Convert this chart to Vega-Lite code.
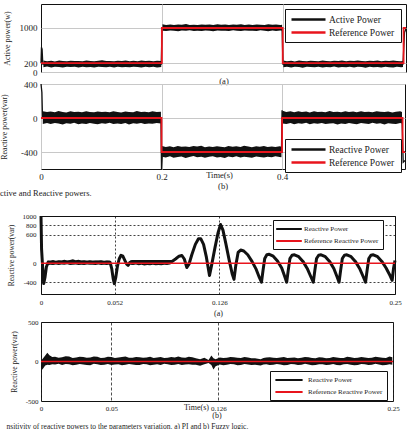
{
  "$schema": "https://vega.github.io/schema/vega-lite/v6.json",
  "padding": {"left": 0, "top": 3, "right": 0, "bottom": 0},
  "config": {
    "font": "Liberation Serif",
    "view": {"stroke": "#111", "strokeWidth": 1},
    "axis": {
      "labelFont": "Liberation Serif", "titleFont": "Liberation Serif", "titleFontWeight": "normal",
      "labelColor": "#222", "titleColor": "#222", "domain": false, "ticks": false,
      "labelOverlap": false, "labelFlush": false, "labelBound": false
    },
    "title": {"font": "Liberation Serif", "fontWeight": "normal", "color": "#222"},
    "legend": {"labelFont": "Liberation Serif", "labelColor": "#222"}
  },
  "datasets": {
    "p1_band": [
      {"seg":"a","t":0.004,"v":110,"v2":260},{"seg":"a","t":0.010,"v":125,"v2":245},{"seg":"a","t":0.017,"v":105,"v2":255},{"seg":"a","t":0.023,"v":120,"v2":240},
      {"seg":"a","t":0.030,"v":115,"v2":262},{"seg":"a","t":0.036,"v":100,"v2":250},{"seg":"a","t":0.043,"v":122,"v2":245},{"seg":"a","t":0.049,"v":112,"v2":258},
      {"seg":"a","t":0.056,"v":118,"v2":248},{"seg":"a","t":0.062,"v":104,"v2":252},{"seg":"a","t":0.069,"v":120,"v2":244},{"seg":"a","t":0.075,"v":110,"v2":260},
      {"seg":"a","t":0.082,"v":115,"v2":250},{"seg":"a","t":0.088,"v":102,"v2":246},{"seg":"a","t":0.095,"v":120,"v2":255},{"seg":"a","t":0.101,"v":112,"v2":265},
      {"seg":"a","t":0.108,"v":108,"v2":248},{"seg":"a","t":0.114,"v":122,"v2":252},{"seg":"a","t":0.121,"v":100,"v2":245},{"seg":"a","t":0.127,"v":118,"v2":258},
      {"seg":"a","t":0.134,"v":110,"v2":250},{"seg":"a","t":0.140,"v":115,"v2":262},{"seg":"a","t":0.147,"v":106,"v2":247},{"seg":"a","t":0.153,"v":120,"v2":253},
      {"seg":"a","t":0.160,"v":112,"v2":245},{"seg":"a","t":0.166,"v":104,"v2":260},{"seg":"a","t":0.173,"v":118,"v2":250},{"seg":"a","t":0.179,"v":110,"v2":255},
      {"seg":"a","t":0.186,"v":122,"v2":245},{"seg":"a","t":0.192,"v":105,"v2":258},{"seg":"a","t":0.199,"v":115,"v2":250},
      {"seg":"b","t":0.201,"v":940,"v2":1085},{"seg":"b","t":0.207,"v":930,"v2":1070},{"seg":"b","t":0.214,"v":945,"v2":1078},{"seg":"b","t":0.220,"v":935,"v2":1066},
      {"seg":"b","t":0.227,"v":928,"v2":1080},{"seg":"b","t":0.233,"v":942,"v2":1072},{"seg":"b","t":0.240,"v":936,"v2":1088},{"seg":"b","t":0.246,"v":948,"v2":1070},
      {"seg":"b","t":0.253,"v":930,"v2":1076},{"seg":"b","t":0.259,"v":940,"v2":1068},{"seg":"b","t":0.266,"v":933,"v2":1082},{"seg":"b","t":0.272,"v":945,"v2":1074},
      {"seg":"b","t":0.279,"v":938,"v2":1079},{"seg":"b","t":0.285,"v":926,"v2":1068},{"seg":"b","t":0.292,"v":944,"v2":1084},{"seg":"b","t":0.298,"v":935,"v2":1072},
      {"seg":"b","t":0.305,"v":940,"v2":1077},{"seg":"b","t":0.311,"v":930,"v2":1069},{"seg":"b","t":0.318,"v":946,"v2":1081},{"seg":"b","t":0.324,"v":937,"v2":1073},
      {"seg":"b","t":0.331,"v":929,"v2":1086},{"seg":"b","t":0.337,"v":943,"v2":1070},{"seg":"b","t":0.344,"v":935,"v2":1078},{"seg":"b","t":0.350,"v":940,"v2":1066},
      {"seg":"b","t":0.357,"v":931,"v2":1080},{"seg":"b","t":0.363,"v":947,"v2":1075},{"seg":"b","t":0.370,"v":936,"v2":1070},{"seg":"b","t":0.376,"v":928,"v2":1083},
      {"seg":"b","t":0.383,"v":942,"v2":1072},{"seg":"b","t":0.389,"v":934,"v2":1079},{"seg":"b","t":0.396,"v":945,"v2":1068},{"seg":"b","t":0.399,"v":938,"v2":1076},
      {"seg":"c","t":0.401,"v":108,"v2":262},{"seg":"c","t":0.407,"v":120,"v2":246},{"seg":"c","t":0.414,"v":104,"v2":255},{"seg":"c","t":0.420,"v":117,"v2":241},
      {"seg":"c","t":0.427,"v":111,"v2":259},{"seg":"c","t":0.433,"v":99,"v2":249},{"seg":"c","t":0.440,"v":121,"v2":244},{"seg":"c","t":0.446,"v":113,"v2":257},
      {"seg":"c","t":0.453,"v":106,"v2":250},{"seg":"c","t":0.459,"v":119,"v2":247},{"seg":"c","t":0.466,"v":102,"v2":261},{"seg":"c","t":0.472,"v":116,"v2":252},
      {"seg":"c","t":0.479,"v":109,"v2":246},{"seg":"c","t":0.485,"v":123,"v2":256},{"seg":"c","t":0.492,"v":101,"v2":249},{"seg":"c","t":0.498,"v":114,"v2":263},
      {"seg":"c","t":0.505,"v":108,"v2":244},{"seg":"c","t":0.511,"v":120,"v2":254},{"seg":"c","t":0.518,"v":103,"v2":248},{"seg":"c","t":0.524,"v":117,"v2":259},
      {"seg":"c","t":0.531,"v":111,"v2":251},{"seg":"c","t":0.537,"v":99,"v2":245},{"seg":"c","t":0.544,"v":122,"v2":257},{"seg":"c","t":0.550,"v":107,"v2":249},
      {"seg":"c","t":0.557,"v":115,"v2":262},{"seg":"c","t":0.563,"v":104,"v2":246},{"seg":"c","t":0.570,"v":119,"v2":255},{"seg":"c","t":0.576,"v":110,"v2":248},
      {"seg":"c","t":0.583,"v":101,"v2":260},{"seg":"c","t":0.589,"v":118,"v2":251},{"seg":"c","t":0.596,"v":109,"v2":246},{"seg":"c","t":0.599,"v":114,"v2":256}
    ],
    "p1_line": [
      {"s":"Active Power","t":0,"v":200},{"s":"Active Power","t":0.0008,"v":560},{"s":"Active Power","t":0.0018,"v":520},{"s":"Active Power","t":0.003,"v":180},
      {"s":"Active Power","t":0.199,"v":180},{"s":"Active Power","t":0.2003,"v":1000},{"s":"Active Power","t":0.399,"v":1000},{"s":"Active Power","t":0.4003,"v":180},
      {"s":"Active Power","t":0.599,"v":180},{"s":"Active Power","t":0.6015,"v":900},{"s":"Active Power","t":0.604,"v":980}
    ],
    "p1_ref": [
      {"s":"Reference  Power","t":0,"v":200},{"s":"Reference  Power","t":0.2,"v":1000},{"s":"Reference  Power","t":0.4,"v":200},
      {"s":"Reference  Power","t":0.6,"v":1000},{"s":"Reference  Power","t":0.604,"v":1000}
    ],
    "p2_band": [
      {"seg":"a","t":0.003,"v":-70,"v2":80},{"seg":"a","t":0.010,"v":-60,"v2":70},{"seg":"a","t":0.016,"v":-72,"v2":76},{"seg":"a","t":0.023,"v":-58,"v2":68},
      {"seg":"a","t":0.029,"v":-66,"v2":82},{"seg":"a","t":0.036,"v":-75,"v2":72},{"seg":"a","t":0.042,"v":-62,"v2":66},{"seg":"a","t":0.049,"v":-68,"v2":78},
      {"seg":"a","t":0.055,"v":-57,"v2":71},{"seg":"a","t":0.062,"v":-73,"v2":74},{"seg":"a","t":0.068,"v":-64,"v2":69},{"seg":"a","t":0.075,"v":-70,"v2":80},
      {"seg":"a","t":0.081,"v":-59,"v2":72},{"seg":"a","t":0.088,"v":-67,"v2":67},{"seg":"a","t":0.094,"v":-74,"v2":77},{"seg":"a","t":0.101,"v":-61,"v2":70},
      {"seg":"a","t":0.107,"v":-69,"v2":75},{"seg":"a","t":0.114,"v":-56,"v2":68},{"seg":"a","t":0.120,"v":-72,"v2":79},{"seg":"a","t":0.127,"v":-65,"v2":71},
      {"seg":"a","t":0.133,"v":-70,"v2":66},{"seg":"a","t":0.140,"v":-60,"v2":76},{"seg":"a","t":0.146,"v":-76,"v2":72},{"seg":"a","t":0.153,"v":-63,"v2":69},
      {"seg":"a","t":0.159,"v":-68,"v2":81},{"seg":"a","t":0.166,"v":-58,"v2":70},{"seg":"a","t":0.172,"v":-71,"v2":74},{"seg":"a","t":0.179,"v":-64,"v2":67},
      {"seg":"a","t":0.185,"v":-69,"v2":78},{"seg":"a","t":0.192,"v":-60,"v2":71},{"seg":"a","t":0.199,"v":-66,"v2":73},
      {"seg":"b","t":0.201,"v":-455,"v2":-330},{"seg":"b","t":0.207,"v":-465,"v2":-340},{"seg":"b","t":0.214,"v":-450,"v2":-332},{"seg":"b","t":0.220,"v":-468,"v2":-345},
      {"seg":"b","t":0.227,"v":-458,"v2":-328},{"seg":"b","t":0.233,"v":-452,"v2":-338},{"seg":"b","t":0.240,"v":-470,"v2":-335},{"seg":"b","t":0.246,"v":-460,"v2":-342},
      {"seg":"b","t":0.253,"v":-448,"v2":-330},{"seg":"b","t":0.259,"v":-463,"v2":-336},{"seg":"b","t":0.266,"v":-455,"v2":-326},{"seg":"b","t":0.272,"v":-467,"v2":-344},
      {"seg":"b","t":0.279,"v":-457,"v2":-334},{"seg":"b","t":0.285,"v":-450,"v2":-340},{"seg":"b","t":0.292,"v":-466,"v2":-331},{"seg":"b","t":0.298,"v":-459,"v2":-337},
      {"seg":"b","t":0.305,"v":-471,"v2":-343},{"seg":"b","t":0.311,"v":-454,"v2":-329},{"seg":"b","t":0.318,"v":-462,"v2":-339},{"seg":"b","t":0.324,"v":-449,"v2":-333},
      {"seg":"b","t":0.331,"v":-465,"v2":-341},{"seg":"b","t":0.337,"v":-456,"v2":-327},{"seg":"b","t":0.344,"v":-461,"v2":-336},{"seg":"b","t":0.350,"v":-468,"v2":-344},
      {"seg":"b","t":0.357,"v":-452,"v2":-332},{"seg":"b","t":0.363,"v":-460,"v2":-338},{"seg":"b","t":0.370,"v":-466,"v2":-330},{"seg":"b","t":0.376,"v":-455,"v2":-342},
      {"seg":"b","t":0.383,"v":-463,"v2":-335},{"seg":"b","t":0.389,"v":-450,"v2":-340},{"seg":"b","t":0.396,"v":-458,"v2":-333},{"seg":"b","t":0.399,"v":-462,"v2":-338},
      {"seg":"c","t":0.401,"v":-64,"v2":85},{"seg":"c","t":0.407,"v":-70,"v2":72},{"seg":"c","t":0.414,"v":-58,"v2":78},{"seg":"c","t":0.420,"v":-73,"v2":69},
      {"seg":"c","t":0.427,"v":-62,"v2":80},{"seg":"c","t":0.433,"v":-67,"v2":71},{"seg":"c","t":0.440,"v":-57,"v2":76},{"seg":"c","t":0.446,"v":-74,"v2":66},
      {"seg":"c","t":0.453,"v":-63,"v2":79},{"seg":"c","t":0.459,"v":-69,"v2":72},{"seg":"c","t":0.466,"v":-59,"v2":75},{"seg":"c","t":0.472,"v":-72,"v2":68},
      {"seg":"c","t":0.479,"v":-65,"v2":81},{"seg":"c","t":0.485,"v":-61,"v2":70},{"seg":"c","t":0.492,"v":-76,"v2":74},{"seg":"c","t":0.498,"v":-64,"v2":67},
      {"seg":"c","t":0.505,"v":-70,"v2":78},{"seg":"c","t":0.511,"v":-58,"v2":72},{"seg":"c","t":0.518,"v":-68,"v2":76},{"seg":"c","t":0.524,"v":-73,"v2":69},
      {"seg":"c","t":0.531,"v":-60,"v2":80},{"seg":"c","t":0.537,"v":-66,"v2":71},{"seg":"c","t":0.544,"v":-71,"v2":75},{"seg":"c","t":0.550,"v":-57,"v2":68},
      {"seg":"c","t":0.557,"v":-69,"v2":79},{"seg":"c","t":0.563,"v":-63,"v2":73},{"seg":"c","t":0.570,"v":-75,"v2":70},{"seg":"c","t":0.576,"v":-61,"v2":77},
      {"seg":"c","t":0.583,"v":-67,"v2":66},{"seg":"c","t":0.589,"v":-72,"v2":74},{"seg":"c","t":0.596,"v":-59,"v2":79},{"seg":"c","t":0.599,"v":-66,"v2":71}
    ],
    "p2_line": [
      {"s":"Reactive Power","t":0,"v":400},{"s":"Reactive Power","t":0.0015,"v":300},{"s":"Reactive Power","t":0.0025,"v":0},{"s":"Reactive Power","t":0.199,"v":0},
      {"s":"Reactive Power","t":0.2,"v":-600},{"s":"Reactive Power","t":0.2015,"v":-400},{"s":"Reactive Power","t":0.399,"v":-400},{"s":"Reactive Power","t":0.4,"v":90},
      {"s":"Reactive Power","t":0.4015,"v":0},{"s":"Reactive Power","t":0.599,"v":0},{"s":"Reactive Power","t":0.601,"v":-520},{"s":"Reactive Power","t":0.604,"v":-500}
    ],
    "p2_ref": [
      {"s":"Reference  Power","t":0,"v":0},{"s":"Reference  Power","t":0.2,"v":-400},{"s":"Reference  Power","t":0.4,"v":0},
      {"s":"Reference  Power","t":0.6,"v":-400},{"s":"Reference  Power","t":0.604,"v":-400}
    ],
    "p3_band": [
      {"seg":"a","t":0.0045,"v":-40,"v2":60},{"seg":"a","t":0.0065,"v":-30,"v2":55},{"seg":"a","t":0.0085,"v":-35,"v2":70},{"seg":"a","t":0.0105,"v":-25,"v2":50},
      {"seg":"a","t":0.0125,"v":-38,"v2":62},{"seg":"a","t":0.0145,"v":-28,"v2":58},{"seg":"a","t":0.0165,"v":-33,"v2":75},{"seg":"a","t":0.0185,"v":-22,"v2":60},
      {"seg":"a","t":0.0205,"v":-36,"v2":68},{"seg":"a","t":0.0225,"v":-30,"v2":85},{"seg":"a","t":0.0245,"v":-26,"v2":62},{"seg":"a","t":0.0265,"v":-35,"v2":72},
      {"seg":"a","t":0.0285,"v":-30,"v2":58},{"seg":"a","t":0.0305,"v":-38,"v2":66},{"seg":"a","t":0.0325,"v":-24,"v2":55},{"seg":"a","t":0.0345,"v":-32,"v2":64},
      {"seg":"a","t":0.0365,"v":-29,"v2":52},{"seg":"a","t":0.0385,"v":-36,"v2":60},{"seg":"a","t":0.0405,"v":-27,"v2":57},{"seg":"a","t":0.0425,"v":-34,"v2":63},
      {"seg":"a","t":0.0445,"v":-30,"v2":50},{"seg":"a","t":0.0465,"v":-38,"v2":58},{"seg":"a","t":0.0488,"v":-28,"v2":52},
      {"seg":"b","t":0.063,"v":-30,"v2":60},{"seg":"b","t":0.065,"v":-36,"v2":55},{"seg":"b","t":0.067,"v":-28,"v2":62},{"seg":"b","t":0.069,"v":-40,"v2":50},
      {"seg":"b","t":0.071,"v":-33,"v2":58},{"seg":"b","t":0.073,"v":-45,"v2":48},{"seg":"b","t":0.075,"v":-35,"v2":55},{"seg":"b","t":0.077,"v":-42,"v2":46},
      {"seg":"b","t":0.079,"v":-30,"v2":52},{"seg":"b","t":0.081,"v":-44,"v2":45},{"seg":"b","t":0.083,"v":-36,"v2":50},{"seg":"b","t":0.085,"v":-40,"v2":48},
      {"seg":"b","t":0.087,"v":-32,"v2":52},{"seg":"b","t":0.089,"v":-38,"v2":56},{"seg":"b","t":0.091,"v":-25,"v2":65},{"seg":"b","t":0.0925,"v":-10,"v2":70}
    ],
    "p3_line": [
      {"t":0,"v":1000},{"t":0.0004,"v":300},{"t":0.0012,"v":-100},{"t":0.0019,"v":-430},{"t":0.0028,"v":-300},{"t":0.0038,"v":-80},{"t":0.005,"v":20},
      {"t":0.0488,"v":20},{"t":0.05,"v":-120},{"t":0.051,"v":-330},{"t":0.0518,"v":-430},{"t":0.0528,"v":-300},{"t":0.054,"v":-60},{"t":0.0552,"v":90},
      {"t":0.0565,"v":170},{"t":0.0578,"v":150},{"t":0.0592,"v":60},{"t":0.0605,"v":-20},{"t":0.0615,"v":-45},{"t":0.0628,"v":20},{"t":0.0645,"v":40},
      {"t":0.0925,"v":40},{"t":0.095,"v":90},{"t":0.0975,"v":150},{"t":0.0995,"v":165},{"t":0.1012,"v":90},{"t":0.103,"v":-90},{"t":0.1045,"v":-20},
      {"t":0.1065,"v":180},{"t":0.109,"v":400},{"t":0.1112,"v":520},{"t":0.1128,"v":520},{"t":0.1148,"v":400},{"t":0.1168,"v":130},{"t":0.119,"v":-260},
      {"t":0.1205,"v":-40},{"t":0.1228,"v":320},{"t":0.125,"v":640},{"t":0.1268,"v":820},{"t":0.1285,"v":700},{"t":0.1305,"v":420},{"t":0.133,"v":50},
      {"t":0.135,"v":-220},{"t":0.1363,"v":-340},{"t":0.1375,"v":-60},{"t":0.1392,"v":230},{"t":0.141,"v":280},{"t":0.1432,"v":260},{"t":0.146,"v":180},
      {"t":0.149,"v":40},{"t":0.152,"v":-130},{"t":0.1542,"v":-300},{"t":0.1557,"v":-400},{"t":0.1568,"v":-150},{"t":0.158,"v":100},{"t":0.1595,"v":180},
      {"t":0.1612,"v":190},{"t":0.164,"v":150},{"t":0.167,"v":50},{"t":0.17,"v":-100},{"t":0.172,"v":-270},{"t":0.1735,"v":-400},{"t":0.1746,"v":-150},
      {"t":0.1758,"v":100},{"t":0.1773,"v":170},{"t":0.179,"v":180},{"t":0.182,"v":140},{"t":0.185,"v":40},{"t":0.188,"v":-110},{"t":0.1905,"v":-280},
      {"t":0.1923,"v":-400},{"t":0.1934,"v":-150},{"t":0.1946,"v":100},{"t":0.1961,"v":170},{"t":0.1978,"v":180},{"t":0.2008,"v":140},{"t":0.2038,"v":40},
      {"t":0.2068,"v":-110},{"t":0.209,"v":-280},{"t":0.2105,"v":-400},{"t":0.2116,"v":-150},{"t":0.2128,"v":100},{"t":0.2143,"v":170},{"t":0.216,"v":180},
      {"t":0.219,"v":140},{"t":0.222,"v":40},{"t":0.225,"v":-110},{"t":0.2275,"v":-280},{"t":0.2292,"v":-400},{"t":0.2303,"v":-150},{"t":0.2315,"v":100},
      {"t":0.233,"v":170},{"t":0.2347,"v":180},{"t":0.2377,"v":140},{"t":0.2407,"v":40},{"t":0.2437,"v":-100},{"t":0.2465,"v":-260},{"t":0.248,"v":-360},
      {"t":0.249,"v":-100},{"t":0.25,"v":60}
    ],
    "p3_ref": [{"t":0,"v":0},{"t":0.25,"v":0}],
    "p4_band": [
      {"t":0.0003,"v":-115,"v2":15},{"t":0.0015,"v":-90,"v2":40},{"t":0.003,"v":-50,"v2":75},{"t":0.0045,"v":-40,"v2":110},{"t":0.006,"v":-45,"v2":80},
      {"t":0.008,"v":-36,"v2":58},{"t":0.010,"v":-38,"v2":60},{"t":0.0125,"v":-30,"v2":48},{"t":0.015,"v":-45,"v2":55},{"t":0.0175,"v":-33,"v2":66},
      {"t":0.020,"v":-35,"v2":62},{"t":0.0225,"v":-48,"v2":44},{"t":0.025,"v":-42,"v2":50},{"t":0.0275,"v":-31,"v2":61},{"t":0.030,"v":-38,"v2":58},
      {"t":0.0325,"v":-44,"v2":47},{"t":0.035,"v":-46,"v2":52},{"t":0.0375,"v":-30,"v2":63},{"t":0.040,"v":-36,"v2":60},{"t":0.0425,"v":-43,"v2":45},
      {"t":0.045,"v":-40,"v2":48},{"t":0.0475,"v":-33,"v2":59},{"t":0.050,"v":-44,"v2":56},{"t":0.0525,"v":-37,"v2":44},{"t":0.055,"v":-35,"v2":50},
      {"t":0.0575,"v":-47,"v2":57},{"t":0.060,"v":-41,"v2":62},{"t":0.0625,"v":-32,"v2":49},{"t":0.065,"v":-38,"v2":46},{"t":0.0675,"v":-43,"v2":58},
      {"t":0.070,"v":-45,"v2":55},{"t":0.0725,"v":-31,"v2":47},{"t":0.075,"v":-34,"v2":50},{"t":0.0775,"v":-46,"v2":60},{"t":0.080,"v":-40,"v2":44},
      {"t":0.0825,"v":-35,"v2":52},{"t":0.085,"v":-43,"v2":58},{"t":0.0875,"v":-30,"v2":45},{"t":0.090,"v":-36,"v2":48},{"t":0.0925,"v":-44,"v2":56},
      {"t":0.095,"v":-40,"v2":52},{"t":0.0975,"v":-33,"v2":64},{"t":0.100,"v":-45,"v2":50},{"t":0.1025,"v":-38,"v2":46},{"t":0.105,"v":-35,"v2":60},
      {"t":0.1075,"v":-42,"v2":55},{"t":0.110,"v":-40,"v2":42},{"t":0.113,"v":-55,"v2":30},{"t":0.116,"v":-35,"v2":48},{"t":0.119,"v":-20,"v2":20},
      {"t":0.121,"v":-45,"v2":75},{"t":0.1225,"v":-100,"v2":40},{"t":0.124,"v":-60,"v2":30},{"t":0.127,"v":-38,"v2":52},{"t":0.1295,"v":-46,"v2":44},
      {"t":0.132,"v":-42,"v2":48},{"t":0.1345,"v":-31,"v2":57},{"t":0.137,"v":-36,"v2":55},{"t":0.1395,"v":-47,"v2":46},{"t":0.142,"v":-44,"v2":45},
      {"t":0.1445,"v":-33,"v2":58},{"t":0.147,"v":-38,"v2":50},{"t":0.1495,"v":-45,"v2":40},{"t":0.152,"v":-40,"v2":42},{"t":0.156,"v":-50,"v2":30},
      {"t":0.158,"v":-38,"v2":44},{"t":0.160,"v":-36,"v2":50},{"t":0.1625,"v":-45,"v2":54},{"t":0.165,"v":-42,"v2":47},{"t":0.1675,"v":-32,"v2":43},
      {"t":0.170,"v":-37,"v2":52},{"t":0.1725,"v":-46,"v2":58},{"t":0.175,"v":-44,"v2":44},{"t":0.1775,"v":-33,"v2":49},{"t":0.180,"v":-36,"v2":50},
      {"t":0.1825,"v":-45,"v2":42},{"t":0.185,"v":-41,"v2":46},{"t":0.1875,"v":-30,"v2":57},{"t":0.190,"v":-38,"v2":55},{"t":0.1925,"v":-47,"v2":45},
      {"t":0.195,"v":-45,"v2":42},{"t":0.1975,"v":-34,"v2":53},{"t":0.200,"v":-36,"v2":50},{"t":0.2025,"v":-44,"v2":41},{"t":0.205,"v":-40,"v2":45},
      {"t":0.2075,"v":-31,"v2":58},{"t":0.210,"v":-43,"v2":52},{"t":0.2125,"v":-46,"v2":44},{"t":0.215,"v":-35,"v2":44},{"t":0.2175,"v":-33,"v2":60},
      {"t":0.220,"v":-40,"v2":55},{"t":0.2225,"v":-47,"v2":43},{"t":0.225,"v":-44,"v2":46},{"t":0.2275,"v":-32,"v2":56},{"t":0.230,"v":-36,"v2":50},
      {"t":0.2325,"v":-45,"v2":44},{"t":0.235,"v":-41,"v2":48},{"t":0.2375,"v":-30,"v2":59},{"t":0.240,"v":-38,"v2":53},{"t":0.2425,"v":-46,"v2":47},
      {"t":0.245,"v":-45,"v2":45},{"t":0.2475,"v":-34,"v2":62},{"t":0.2495,"v":-40,"v2":55}
    ],
    "p4_line": [{"t":0,"v":0},{"t":0.25,"v":0}],
    "p4_ref": [{"t":0,"v":0},{"t":0.25,"v":0}]
  },
  "vconcat": [
    {
      "bounds": "flush",
      "spacing": 12,
      "resolve": {"scale": {"color": "independent"}, "legend": {"color": "independent"}},
      "title": {"text": "ctive and Reactive powers.", "orient": "bottom", "anchor": "start", "fontSize": 8.5, "offset": -2},
      "vconcat": [
        {
          "width": 365,
          "height": 68,
          "encoding": {
            "x": {"field": "t", "type": "quantitative", "scale": {"domain": [0, 0.604], "nice": false, "zero": false},
              "axis": {"values": [0.2, 0.4], "labels": false, "grid": true, "gridColor": "#c8c8c8", "title": "(a)", "titleFontSize": 8.5, "titlePadding": 4}},
            "y": {"field": "v", "type": "quantitative", "scale": {"domain": [0, 1545], "nice": false, "zero": false},
              "axis": {"values": [0, 200, 1000], "labelExpr": "'' + datum.value", "labelFontSize": 9, "labelPadding": 4, "grid": true, "gridColor": "#c8c8c8",
                "title": "Active power(w)", "titleFontSize": 8, "titlePadding": 8}}
          },
          "layer": [
            {"data": {"name": "p1_band"}, "mark": {"type": "area", "color": "#111", "opacity": 1},
              "encoding": {"y2": {"field": "v2"}, "detail": {"field": "seg"}}},
            {"data": {"name": "p1_line"}, "mark": {"type": "line", "strokeWidth": 1.3},
              "encoding": {"color": {"field": "s", "type": "nominal",
                "scale": {"domain": ["Active Power", "Reference  Power"], "range": ["#111", "#e8141c"]},
                "legend": {"orient": "none", "legendX": 244, "legendY": 5, "title": null, "symbolType": "M-3.4,0H3.4", "symbolSize": 100,
                  "symbolStrokeWidth": 2.5, "symbolOffset": 13, "labelOffset": 14, "labelFont": "Liberation Serif", "labelFontSize": 9.5,
                  "strokeColor": "#111", "fillColor": "white", "padding": 4, "rowPadding": 1}}}},
            {"data": {"name": "p1_ref"}, "mark": {"type": "line", "interpolate": "step-after", "strokeWidth": 1.8},
              "encoding": {"color": {"field": "s", "type": "nominal"}}}
          ]
        },
        {
          "width": 364,
          "height": 85,
          "title": {"text": "(b)", "orient": "bottom", "anchor": "middle", "frame": "group", "fontSize": 8.5, "offset": 1},
          "encoding": {
            "x": {"field": "t", "type": "quantitative", "scale": {"domain": [0, 0.604], "nice": false, "zero": false},
              "axis": {"values": [0, 0.2, 0.4], "labelExpr": "'' + datum.value", "labelFontSize": 9, "labelPadding": 3, "grid": true, "gridColor": "#c8c8c8",
                "title": "Time(s)", "titleFontSize": 8.5, "titleX": 178, "titleY": 1, "titleBaseline": "top"}},
            "y": {"field": "v", "type": "quantitative", "scale": {"domain": [-600, 400], "nice": false, "zero": false},
              "axis": {"values": [-400, 0, 400], "labelExpr": "'' + datum.value", "labelFontSize": 9, "labelPadding": 4, "grid": true, "gridColor": "#c8c8c8",
                "title": "Reactive power(var)", "titleFontSize": 8, "titlePadding": 12}}
          },
          "layer": [
            {"data": {"name": "p2_band"}, "mark": {"type": "area", "color": "#111", "opacity": 1},
              "encoding": {"y2": {"field": "v2"}, "detail": {"field": "seg"}}},
            {"data": {"name": "p2_line"}, "mark": {"type": "line", "strokeWidth": 1.3},
              "encoding": {"color": {"field": "s", "type": "nominal",
                "scale": {"domain": ["Reactive Power", "Reference  Power"], "range": ["#111", "#e8141c"]},
                "legend": {"orient": "none", "legendX": 244, "legendY": 55, "title": null, "symbolType": "M-3.4,0H3.4", "symbolSize": 100,
                  "symbolStrokeWidth": 2.5, "symbolOffset": 13, "labelOffset": 14, "labelFont": "Liberation Serif", "labelFontSize": 9.5,
                  "strokeColor": "#111", "fillColor": "white", "padding": 4, "rowPadding": 1}}}},
            {"data": {"name": "p2_ref"}, "mark": {"type": "line", "interpolate": "step-after", "strokeWidth": 1.8},
              "encoding": {"color": {"field": "s", "type": "nominal"}}}
          ]
        }
      ]
    },
    {
      "bounds": "flush",
      "spacing": 28,
      "resolve": {"scale": {"color": "independent"}, "legend": {"color": "independent"}},
      "title": {"text": "nsitivity of reactive powers to the parameters variation. a) PI and b) Fuzzy logic.", "orient": "bottom", "anchor": "start", "fontSize": 7.5, "offset": 2},
      "vconcat": [
        {
          "width": 354,
          "height": 78,
          "encoding": {
            "x": {"field": "t", "type": "quantitative", "scale": {"domain": [0, 0.25], "nice": false, "zero": false},
              "axis": {"values": [0, 0.052, 0.126, 0.25], "labelExpr": "'' + datum.value", "labelFontSize": 7, "labelPadding": 4, "grid": true,
                "gridColor": "#111", "gridDash": [2, 2], "gridWidth": 0.8, "title": "(a)", "titleFontSize": 8, "titlePadding": 4}},
            "y": {"field": "v", "type": "quantitative", "scale": {"domain": [-650, 1000], "nice": false, "zero": false},
              "axis": {"values": [-400, 0, 600, 800, 1000], "labelExpr": "'' + datum.value", "labelFontSize": 7, "labelPadding": 5, "grid": true,
                "gridColor": "#111", "gridDash": [2, 2], "gridWidth": 0.8, "title": "Reactive power(var)", "titleFontSize": 7.5, "titlePadding": 7}}
          },
          "layer": [
            {"data": {"name": "p3_band"}, "mark": {"type": "area", "color": "#111", "opacity": 1},
              "encoding": {"y2": {"field": "v2"}, "detail": {"field": "seg"}}},
            {"data": {"name": "p3_line"}, "mark": {"type": "line", "strokeWidth": 3, "strokeJoin": "round"},
              "encoding": {"color": {"datum": "Reactive Power", "type": "nominal",
                "scale": {"domain": ["Reactive Power", "Reference Reactive Power"], "range": ["#111", "#e8141c"]},
                "legend": {"orient": "none", "legendX": 232, "legendY": 4, "title": null, "symbolType": "M-3.2,0H3.2", "symbolSize": 64,
                  "symbolStrokeWidth": 2, "symbolOffset": 7, "labelOffset": 10, "labelFont": "Liberation Serif", "labelFontSize": 7,
                  "strokeColor": "#111", "fillColor": "white", "padding": 4, "rowPadding": 3}}}},
            {"data": {"name": "p3_ref"}, "mark": {"type": "line", "strokeWidth": 1.6},
              "encoding": {"color": {"datum": "Reference Reactive Power", "type": "nominal"}}}
          ]
        },
        {
          "width": 352,
          "height": 79,
          "title": {"text": "(b)", "orient": "bottom", "anchor": "middle", "frame": "group", "fontSize": 8, "offset": 1},
          "encoding": {
            "x": {"field": "t", "type": "quantitative", "scale": {"domain": [0, 0.25], "nice": false, "zero": false},
              "axis": {"values": [0, 0.05, 0.126, 0.25], "labelExpr": "'' + datum.value", "labelFontSize": 7, "labelPadding": 3, "grid": true,
                "gridColor": "#222", "gridDash": [3, 2], "gridWidth": 0.8, "title": "Time(s)", "titleFontSize": 8, "titleX": 155, "titleY": 2, "titleBaseline": "top"}},
            "y": {"field": "v", "type": "quantitative", "scale": {"domain": [-500, 500], "nice": false, "zero": false},
              "axis": {"values": [-500, 0, 500], "labelExpr": "'' + datum.value", "labelFontSize": 7, "labelPadding": 3, "grid": false,
                "title": "Reactive power(var)", "titleFontSize": 7.5, "titlePadding": 7}}
          },
          "layer": [
            {"data": {"name": "p4_band"}, "mark": {"type": "area", "color": "#111", "opacity": 1},
              "encoding": {"y2": {"field": "v2"}}},
            {"data": {"name": "p4_line"}, "mark": {"type": "line", "strokeWidth": 1},
              "encoding": {"color": {"datum": "Reactive  Power", "type": "nominal",
                "scale": {"domain": ["Reactive  Power", "Reference Reactive Power"], "range": ["#111", "#e8141c"]},
                "legend": {"orient": "none", "legendX": 229, "legendY": 49, "title": null, "symbolType": "M-3.4,0H3.4", "symbolSize": 64,
                  "symbolStrokeWidth": 2, "symbolOffset": 10, "labelOffset": 14, "labelFont": "Liberation Serif", "labelFontSize": 7,
                  "strokeColor": "#111", "fillColor": "white", "padding": 4, "rowPadding": 3}}}},
            {"data": {"name": "p4_ref"}, "mark": {"type": "line", "strokeWidth": 1.6},
              "encoding": {"color": {"datum": "Reference Reactive Power", "type": "nominal"}}}
          ]
        }
      ]
    }
  ],
  "spacing": 13,
  "bounds": "full",
  "resolve": {"scale": {"color": "independent"}, "legend": {"color": "independent"}}
}
